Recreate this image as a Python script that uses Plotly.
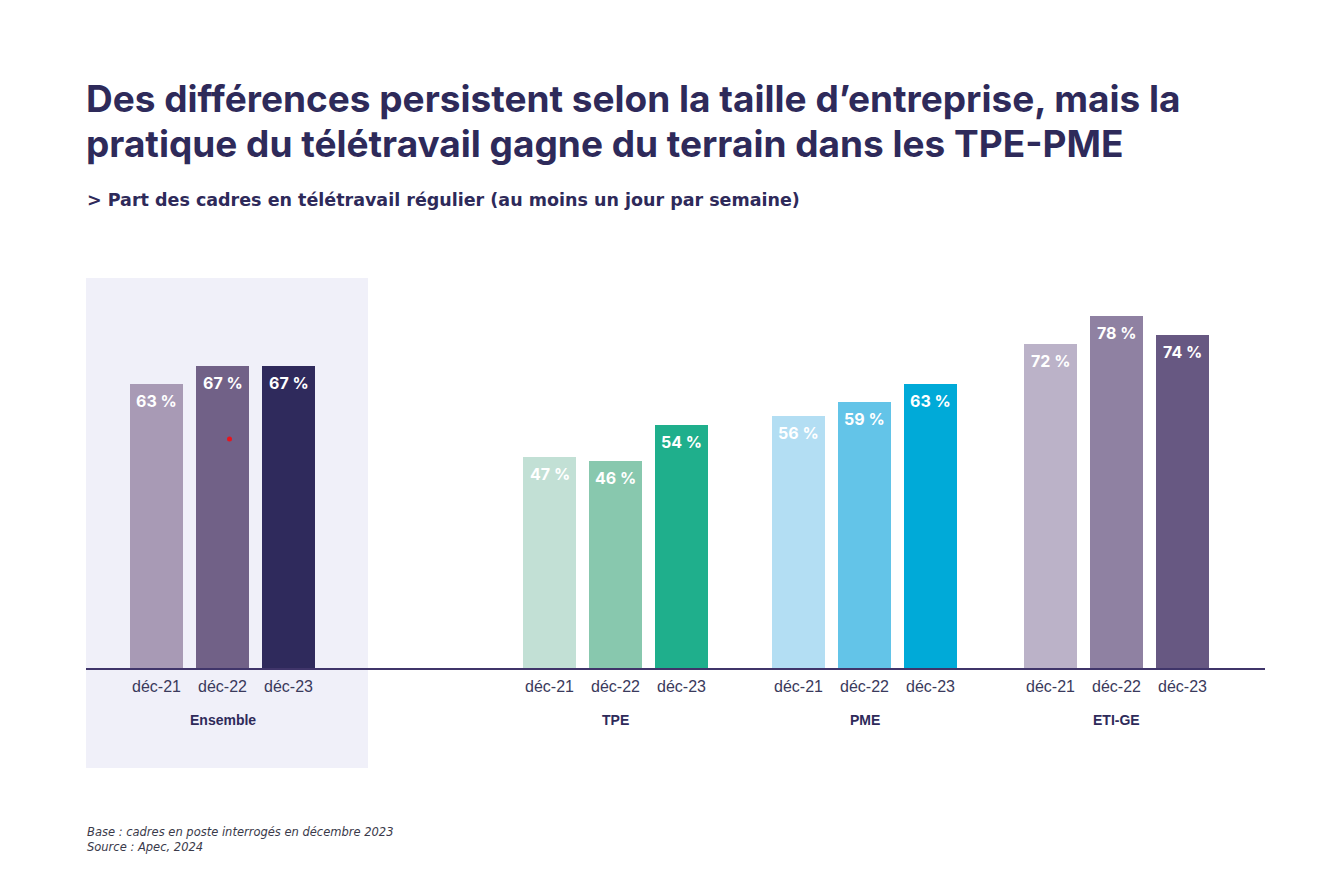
import plotly.graph_objects as go

groups = ["Ensemble", "TPE", "PME", "ETI-GE"]
periods = ["déc-21", "déc-22", "déc-23"]
values = {
    "Ensemble": [63, 67, 67],
    "TPE": [47, 46, 54],
    "PME": [56, 59, 63],
    "ETI-GE": [72, 78, 74],
}
colors = {
    "Ensemble": ["#a89ab5", "#716187", "#2f2a5c"],
    "TPE": ["#c2e0d5", "#88c8ae", "#1faf8c"],
    "PME": ["#b3def3", "#63c4e8", "#00aad8"],
    "ETI-GE": ["#bbb2c8", "#8f81a2", "#675882"],
}

title_lines = ["Des différences persistent selon la taille d’entreprise, mais la",
               "pratique du télétravail gagne du terrain dans les TPE-PME"]
subtitle = "> Part des cadres en télétravail régulier (au moins un jour par semaine)"
note = "Base : cadres en poste interrogés en décembre 2023<br>Source : Apec, 2024"

# layout geometry (pixels)
W, H = 1326, 872
L, R = 86, 1265
BASE, TOP = 669, 217
group_centers = [136.5, 529.5, 778.5, 1030.5]
step = 66
bar_w = 53

def px(x):
    return (x - L) / (R - L)

def py(y):
    return (BASE - y) / (BASE - TOP)

fig = go.Figure()
tickvals, ticktext = [], []
for g, gc in zip(groups, group_centers):
    xs = [gc + (i - 1) * step for i in range(len(periods))]
    tickvals += xs
    ticktext += periods
    fig.add_trace(go.Bar(
        x=xs, y=values[g], width=bar_w,
        marker=dict(color=colors[g], line=dict(width=0)),
        hoverinfo="skip", showlegend=False,
    ))
    for xv, v in zip(xs, values[g]):
        fig.add_annotation(x=xv, y=v, xref="x", yref="y", text=f"{v} %",
                           showarrow=False, yanchor="middle", yshift=-17,
                           font=dict(family="Inter", size=16, color="white", weight="bold"))
    fig.add_annotation(x=gc, y=py(720), xref="x", yref="paper", text=f"<b>{g}</b>",
                       showarrow=False, yanchor="middle",
                       font=dict(family="Liberation Sans", size=14, color="#2e2a5a"))

shapes = [
    dict(type="rect", xref="paper", yref="paper", x0=px(86), x1=px(368),
         y0=py(768), y1=py(278), fillcolor="#f0f0f9", line=dict(width=0), layer="below"),
    dict(type="line", xref="paper", yref="paper", x0=0, x1=1, y0=0, y1=0,
         line=dict(color="#40356a", width=2), layer="above"),
    # small red dot present in the source image
    dict(type="circle", xref="paper", yref="paper", x0=px(227), x1=px(232),
         y0=py(441.5), y1=py(436.5), fillcolor="#e8141e", line=dict(width=0), layer="above"),
]

for line, cy in zip(title_lines, [99, 144]):
    fig.add_annotation(x=px(84), y=py(cy), xref="paper", yref="paper", text=f"<b>{line}</b>",
                       showarrow=False, xanchor="left", yanchor="middle", align="left",
                       font=dict(family="Inter", size=37, color="#2e2a5a"))
fig.add_annotation(x=px(85), y=py(200.5), xref="paper", yref="paper", text=f"<b>{subtitle}</b>",
                   showarrow=False, xanchor="left", yanchor="middle", align="left",
                   font=dict(family="DejaVu Sans", size=17.5, color="#2e2a5a"))
fig.add_annotation(x=px(85), y=py(839), xref="paper", yref="paper", text=f"<i>{note}</i>",
                   showarrow=False, xanchor="left", yanchor="middle", align="left",
                   font=dict(family="DejaVu Sans", size=11.5, color="#3a3a4a"))

fig.update_layout(
    width=W, height=H,
    margin=dict(l=L, r=W - R, t=TOP, b=H - BASE, pad=0),
    paper_bgcolor="white", plot_bgcolor="rgba(0,0,0,0)",
    shapes=shapes, bargap=0,
    xaxis=dict(range=[0, R - L], tickvals=tickvals, ticktext=ticktext,
               showgrid=False, zeroline=False, showline=False, ticks="",
               ticklabelstandoff=6,
               tickfont=dict(family="Liberation Sans", size=16, color="#3a3a5c"),
               fixedrange=True),
    yaxis=dict(range=[0, 100], visible=False, fixedrange=True),
)

fig.write_html("out.html")
